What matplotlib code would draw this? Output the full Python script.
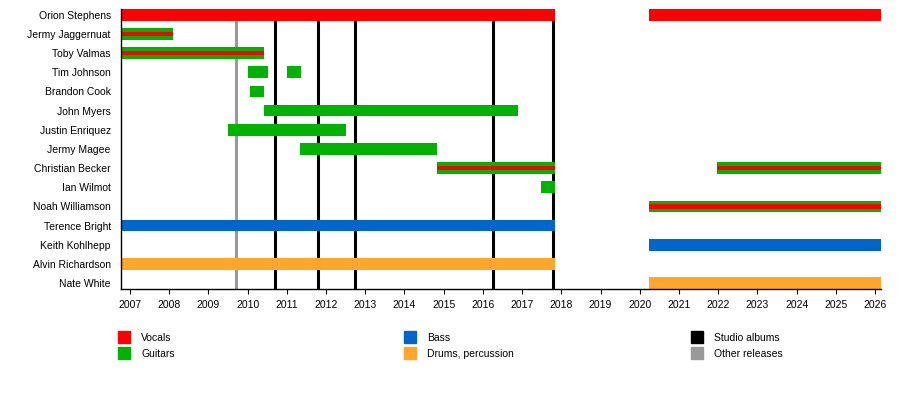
import matplotlib
matplotlib.use("Agg")
import matplotlib.pyplot as plt
from matplotlib.patches import Rectangle

# band members, top to bottom
members = ["Orion Stephens", "Jermy Jaggernuat", "Toby Valmas", "Tim Johnson",
           "Brandon Cook", "John Myers", "Justin Enriquez", "Jermy Magee",
           "Christian Becker", "Ian Wilmot", "Noah Williamson", "Terence Bright",
           "Keith Kohlhepp", "Alvin Richardson", "Nate White"]

# membership spans (member, start, end, role)
span_member = ["Orion Stephens", "Orion Stephens", "Jermy Jaggernuat", "Toby Valmas",
               "Tim Johnson", "Tim Johnson", "Brandon Cook", "John Myers",
               "Justin Enriquez", "Jermy Magee", "Christian Becker", "Christian Becker",
               "Ian Wilmot", "Noah Williamson", "Terence Bright", "Keith Kohlhepp",
               "Alvin Richardson", "Nate White"]
span_start = [2006.76, 2020.24, 2006.76, 2006.76, 2010.0, 2011.0, 2010.05, 2010.41,
              2009.49, 2011.33, 2014.82, 2021.97, 2017.49, 2020.24, 2006.76, 2020.24,
              2006.76, 2020.24]
span_end = [2017.85, 2026.15, 2008.11, 2010.43, 2010.51, 2011.35, 2010.43, 2016.90,
            2012.52, 2014.84, 2017.85, 2026.15, 2017.85, 2026.15, 2017.85, 2026.15,
            2017.85, 2026.15]
span_role = ["vocals", "vocals", "vocals+guitars", "vocals+guitars", "guitars", "guitars",
             "guitars", "guitars", "guitars", "guitars", "vocals+guitars", "vocals+guitars",
             "guitars", "vocals+guitars", "bass", "bass", "drums", "drums"]

studio_albums = [2010.69, 2011.79, 2012.73, 2016.25, 2017.78]
other_releases = [2009.70]

years = list(range(2007, 2027))

colors = {"vocals": "#ff0000", "guitars": "#00b300", "bass": "#0066cc",
          "drums": "#ffa62b", "studio": "#000000", "other": "#999999"}

plt.rcParams['font.family'] = ['Liberation Sans', 'DejaVu Sans']

fig = plt.figure(figsize=(9, 4.08), dpi=100)
ax = fig.add_axes([0.1339, 0.2917, 0.8449, 0.6863])

row = {m: i for i, m in enumerate(members)}

for x in other_releases:
    ax.axvline(x, color=colors["other"], lw=2.2, zorder=1)
for x in studio_albums:
    ax.axvline(x, color=colors["studio"], lw=2.2, zorder=1)

for m, s, e, r in zip(span_member, span_start, span_end, span_role):
    y = row[m]
    if r == "vocals+guitars":
        ax.barh(y, e - s, left=s, height=0.61, color=colors["guitars"], zorder=2)
        ax.barh(y, e - s, left=s, height=0.23, color=colors["vocals"], zorder=3)
    else:
        ax.barh(y, e - s, left=s, height=0.61, color=colors[r], zorder=2)

ax.set_xlim(2006.76, 2026.15)
ax.set_ylim(14.31, -0.305)
ax.set_yticks(range(len(members)))
ax.set_yticklabels(members, fontsize=7.5)
ax.tick_params(axis='y', length=0, pad=7)
ax.set_xticks(years)
ax.set_xticklabels([str(y) for y in years], fontsize=7.5)
ax.tick_params(axis='x', length=3.6, width=0.8, pad=4)
for side in ["top", "right"]:
    ax.spines[side].set_visible(False)
for side in ["left", "bottom"]:
    ax.spines[side].set_linewidth(1)
    ax.spines[side].set_zorder(4)

# legend, three columns under the plot
legend_items = [("Vocals", colors["vocals"], 118, 0), ("Guitars", colors["guitars"], 118, 1),
                ("Bass", colors["bass"], 404, 0), ("Drums, percussion", colors["drums"], 404, 1),
                ("Studio albums", colors["studio"], 691, 0), ("Other releases", colors["other"], 691, 1)]
W, H = 900.0, 408.0
for label, c, px, r in legend_items:
    top = 331 + r * 16
    fig.patches.append(Rectangle((px / W, 1 - (top + 12) / H), 12 / W, 12 / H,
                                 transform=fig.transFigure, color=c))
    fig.text((px + 23) / W, 1 - (top + 7) / H, label, fontsize=7.5, va='center', ha='left')

fig.savefig("out.png", dpi=100)
